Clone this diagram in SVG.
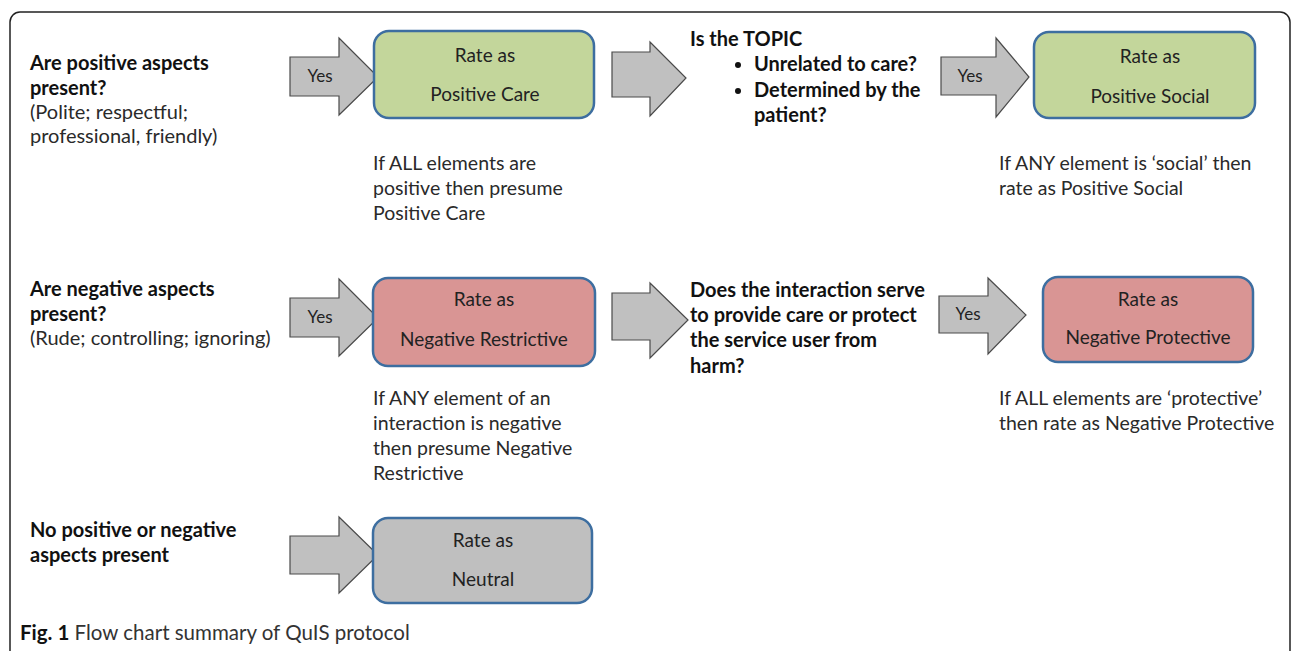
<svg xmlns="http://www.w3.org/2000/svg" width="1296" height="651" viewBox="0 0 1296 651">
<defs>
<style>
text{font-family:Lato,"Liberation Sans",sans-serif;font-size:20px;fill:#2a2a2a}
.b{font-weight:bold;fill:#111}
.nt{font-size:19.5px}
.c{text-anchor:middle;fill:#222;font-size:19px}
.y{text-anchor:middle;fill:#222;font-size:17px}
.arr{fill:#c0c0c0;stroke:#4a4a4a;stroke-width:1.2;stroke-linejoin:miter}
.box{stroke:#3d6ea0;stroke-width:2.5}
.g{fill:#c3d69b}
.r{fill:#d99594}
.n{fill:#bfbfbf}
.cap{font-size:20.5px;fill:#333}
</style>
</defs>
<rect x="10" y="12" width="1280" height="650" rx="10" fill="#fff" stroke="#222" stroke-width="1.5"/>
<g id="q1">
<text x="30" y="70" class="b">Are positive aspects</text>
<text x="30" y="95" class="b">present?</text>
<text x="30" y="119">(Polite; respectful;</text>
<text x="30" y="143">professional, friendly)</text>
</g>
<g id="q2">
<text x="30" y="296" class="b">Are negative aspects</text>
<text x="30" y="321" class="b">present?</text>
<text x="30" y="345">(Rude; controlling; ignoring)</text>
</g>
<g id="q3">
<text x="30" y="537" class="b">No positive or negative</text>
<text x="30" y="562" class="b">aspects present</text>
</g>
<g id="connectors">
<path class="arr" d="M290,57 H339 V38 L378,77 L339,115 V96 H290 Z"/>
<text x="320" y="82" class="y">Yes</text>
<path class="arr" d="M612,52 H650 V42 L686,78 L650,116 V97 H612 Z"/>
<path class="arr" d="M941,57 H996 V38 L1029,77 L996,117 V95 H941 Z"/>
<text x="970" y="82" class="y">Yes</text>
<path class="arr" d="M290,298 H339 V279 L378,318 L339,356 V337 H290 Z"/>
<text x="320" y="323" class="y">Yes</text>
<path class="arr" d="M612,293 H650 V283 L688,320 L650,358 V340 H612 Z"/>
<path class="arr" d="M939,296 H988 V278 L1026,315 L988,354 V333 H939 Z"/>
<text x="968" y="320" class="y">Yes</text>
<path class="arr" d="M290,536 H339 V517 L378,555 L339,593 V574 H290 Z"/>
</g>
<g id="posCare">
<rect class="box g" x="374" y="31" width="220" height="87" rx="15"/>
<text x="485" y="62" class="c">Rate as</text>
<text x="485" y="101" class="c">Positive Care</text>
</g>
<g id="posCareNote">
<text x="373" y="170" class="nt">If ALL elements are</text>
<text x="373" y="195" class="nt">positive  then presume</text>
<text x="373" y="220" class="nt">Positive Care</text>
</g>
<g id="topicQ">
<text x="690" y="46" class="b">Is the TOPIC</text>
<circle cx="738" cy="65" r="3" fill="#111"/>
<circle cx="738" cy="91" r="3" fill="#111"/>
<text x="754" y="71" class="b">Unrelated to care?</text>
<text x="754" y="97" class="b">Determined by the</text>
<text x="754" y="122" class="b">patient?</text>
</g>
<g id="posSocial">
<rect class="box g" x="1034" y="32" width="221" height="86" rx="15"/>
<text x="1150" y="63" class="c">Rate as</text>
<text x="1150" y="103" class="c">Positive Social</text>
</g>
<g id="posSocialNote">
<text x="999" y="170" class="nt">If ANY element is ‘social’ then</text>
<text x="999" y="195" class="nt">rate as Positive Social</text>
</g>
<g id="negRestr">
<rect class="box r" x="373" y="278" width="222" height="88" rx="15"/>
<text x="484" y="306" class="c">Rate as</text>
<text x="484" y="346" class="c">Negative Restrictive</text>
</g>
<g id="negRestrNote">
<text x="373" y="405" class="nt">If ANY element of an</text>
<text x="373" y="430" class="nt">interaction is negative</text>
<text x="373" y="455" class="nt">then presume Negative</text>
<text x="373" y="480" class="nt">Restrictive</text>
</g>
<g id="protectQ">
<text x="690" y="297" class="b">Does the interaction serve</text>
<text x="690" y="322" class="b">to provide care or protect</text>
<text x="690" y="347" class="b">the service user from</text>
<text x="690" y="373" class="b">harm?</text>
</g>
<g id="negProt">
<rect class="box r" x="1043" y="277" width="210" height="85" rx="15"/>
<text x="1148" y="306" class="c">Rate as</text>
<text x="1148" y="344" class="c">Negative Protective</text>
</g>
<g id="negProtNote">
<text x="999" y="405" class="nt">If ALL elements are ‘protective’</text>
<text x="999" y="430" class="nt">then rate as Negative Protective</text>
</g>
<g id="neutral">
<rect class="box n" x="373" y="518" width="219" height="85" rx="15"/>
<text x="483" y="547" class="c">Rate as</text>
<text x="483" y="586" class="c">Neutral</text>
</g>
<g id="caption">
<text x="20" y="640" class="cap"><tspan font-weight="bold" fill="#111">Fig. 1</tspan> Flow chart summary of QuIS protocol</text>
</g>
</svg>
